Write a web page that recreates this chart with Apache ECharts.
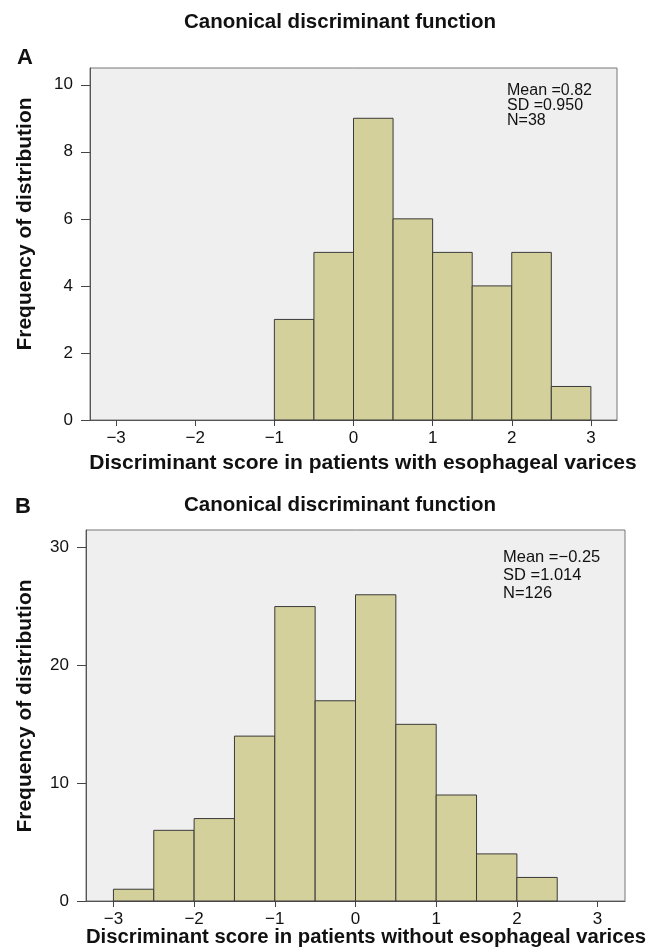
<!DOCTYPE html>
<html>
<head>
<meta charset="utf-8">
<script src="https://cdn.jsdelivr.net/npm/echarts@6/dist/echarts.min.js"></script>
<style>
html,body{margin:0;padding:0;background:#fff;}
#chart{width:651px;height:952px;}
</style>
</head>
<body>
<div id="chart"></div>
<script>
// Panel A: patients with esophageal varices
const binEdgesA = [-1, -0.5, 0, 0.5, 1, 1.5, 2, 2.5, 3];
const countsA = [3, 5, 9, 6, 5, 4, 5, 1];
// Panel B: patients without esophageal varices
const binEdgesB = [-3, -2.5, -2, -1.5, -1, -0.5, 0, 0.5, 1, 1.5, 2, 2.5];
const countsB = [1, 6, 7, 14, 25, 17, 26, 15, 9, 4, 2];
const xTicks = [-3, -2, -1, 0, 1, 2, 3];
const yTicksA = [0, 2, 4, 6, 8, 10];
const yTicksB = [0, 10, 20, 30];
const statsA = ['Mean =0.82', 'SD =0.950', 'N=38'];
const statsB = ['Mean =\u22120.25', 'SD =1.014', 'N=126'];
const mainTitle = 'Canonical discriminant function';
const yTitle = 'Frequency of distribution';
const xTitleA = 'Discriminant score in patients with esophageal varices';
const xTitleB = 'Discriminant score in patients without esophageal varices';

const FONT = '"Liberation Sans", Arial, Helvetica, sans-serif';
const BAR_FILL = '#d4d09b';
const BAR_STROKE = '#3a3a3a';

function binData(edges, counts) {
  return counts.map((c, i) => [edges[i], edges[i + 1], c]);
}

function renderBin(params, api) {
  const p0 = api.coord([api.value(0), 0]);
  const p1 = api.coord([api.value(1), api.value(2)]);
  return {
    type: 'rect',
    shape: { x: p0[0], y: p1[1], width: p1[0] - p0[0], height: p0[1] - p1[1] },
    style: { fill: BAR_FILL, stroke: BAR_STROKE, lineWidth: 1 }
  };
}

function fmtTick(v) {
  return v < 0 ? '\u2212' + Math.abs(v) : String(v);
}

function xAxisCfg(idx, min, max) {
  return {
    gridIndex: idx, type: 'value', min: min, max: max,
    axisLine: { show: true, onZero: false, lineStyle: { color: '#555', width: 1 } },
    axisTick: { show: true, length: 6, customValues: xTicks, lineStyle: { color: '#444' } },
    axisLabel: { customValues: xTicks, formatter: fmtTick, fontFamily: FONT, fontSize: 17, color: '#111', margin: 10 },
    splitLine: { show: false }
  };
}

function yAxisCfg(idx, max, ticks) {
  return {
    gridIndex: idx, type: 'value', min: 0, max: max,
    axisLine: { show: true, onZero: false, lineStyle: { color: '#555', width: 1 } },
    axisTick: { show: true, length: 9, customValues: ticks, lineStyle: { color: '#444' } },
    axisLabel: { customValues: ticks, fontFamily: FONT, fontSize: 17, color: '#111', margin: 17 },
    splitLine: { show: false }
  };
}

function txt(x, y, s, size, weight, align, rot) {
  return {
    type: 'text', x: x, y: y, rotation: rot || 0,
    style: { text: s, fontFamily: FONT, fontSize: size, fontWeight: weight || 'normal',
      fill: '#111', align: align || 'center', verticalAlign: 'middle' }
  };
}

const graphics = [
  txt(340, 22, mainTitle, 20.5, 'bold'),
  txt(25, 58, 'A', 22, 'bold'),
  txt(363, 463, xTitleA, 21, 'bold'),
  txt(25, 224, yTitle, 21, 'bold', 'center', Math.PI / 2),
  txt(340, 505, mainTitle, 20.5, 'bold'),
  txt(23, 507, 'B', 22, 'bold'),
  txt(366, 937, xTitleB, 20.3, 'bold'),
  txt(25, 706, yTitle, 21, 'bold', 'center', Math.PI / 2)
];
statsA.forEach((s, i) => graphics.push(txt(507, 91 + i * 15, s, 16, 'normal', 'left')));
statsB.forEach((s, i) => graphics.push(txt(503, 557 + i * 18, s, 16.5, 'normal', 'left')));

const chart = echarts.init(document.getElementById('chart'), null, { renderer: 'canvas' });
chart.setOption({
  backgroundColor: '#ffffff',
  animation: false,
  grid: [
    { left: 90, top: 68, width: 527, height: 352, show: true, backgroundColor: '#efefef', borderColor: '#777', borderWidth: 1 },
    { left: 86, top: 530, width: 539, height: 371, show: true, backgroundColor: '#efefef', borderColor: '#777', borderWidth: 1 }
  ],
  xAxis: [ xAxisCfg(0, -3.33, 3.33), xAxisCfg(1, -3.34, 3.34) ],
  yAxis: [ yAxisCfg(0, 10.5, yTicksA), yAxisCfg(1, 31.5, yTicksB) ],
  series: [
    { type: 'custom', xAxisIndex: 0, yAxisIndex: 0, renderItem: renderBin,
      encode: { x: [0, 1], y: 2 }, data: binData(binEdgesA, countsA) },
    { type: 'custom', xAxisIndex: 1, yAxisIndex: 1, renderItem: renderBin,
      encode: { x: [0, 1], y: 2 }, data: binData(binEdgesB, countsB) }
  ],
  graphic: graphics
});
</script>
</body>
</html>
